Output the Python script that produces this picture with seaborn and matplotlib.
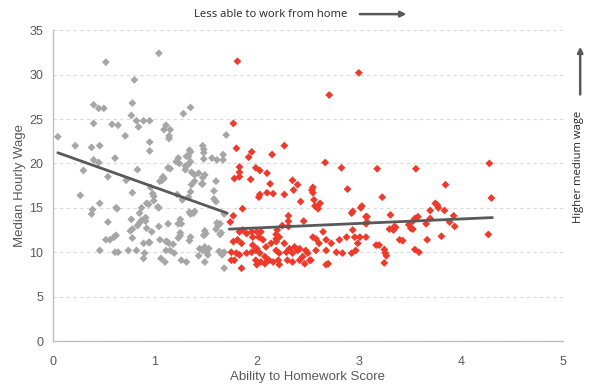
import numpy as np
import pandas as pd
import matplotlib
matplotlib.use("Agg")
import matplotlib.pyplot as plt
import seaborn as sns

# ---- data ----
gray_x = [0.05,0.52,1.04,0.80,0.40,0.45,0.50,0.78,0.77,0.82,0.84,0.89,0.95,1.35,1.28,0.40,0.58,0.64,0.71,
          1.11,1.09,1.15,1.14,1.14,0.95,0.95,0.22,0.38,0.46,0.40,0.45,0.61,0.30,0.54,0.83,0.72,0.27,0.46,
          0.39,0.38,0.62,0.63,0.54,0.78,0.77,0.78,0.76,0.83,0.85,0.87,0.85,0.87,0.92,0.94,0.91,0.91,0.92,
          0.97,0.96,0.98,0.99,0.99,1.03,1.04,1.05,1.07,1.09,1.15,1.21,1.24,1.23,1.30,1.34,1.35,1.33,1.35,
          1.39,1.39,1.36,1.35,1.47,1.48,1.48,1.48,1.56,1.61,1.67,1.67,1.70,1.60,1.47,1.47,1.58,1.58,1.33,
          1.27,1.22,1.34,1.35,1.38,1.39,1.25,1.25,1.18,1.12,1.04,0.94,1.49,1.50,1.62,1.64,1.60,1.63,1.66,
          0.46,0.52,0.56,0.60,0.62,0.61,0.64,0.74,0.78,0.82,0.89,0.90,0.89,0.95,1.05,1.06,1.10,1.11,1.15,
          1.11,1.19,1.25,1.31,1.35,1.44,1.47,1.49,1.51,1.52,1.53,1.49,1.64,1.66,1.68,1.68,1.31,1.33,1.30,
          1.13,1.08,1.36,1.43,1.49,1.46,1.60,1.13,1.23,1.26,1.61,1.65,1.68,1.23,1.34,1.48,1.14,1.26,1.43]
gray_y = [23.0,31.4,32.4,29.4,26.6,26.2,26.2,26.8,25.4,24.8,24.1,24.8,24.8,26.3,25.6,24.5,24.4,24.3,23.1,
          24.3,23.8,23.8,23.1,22.8,22.4,21.4,22.0,21.8,22.0,20.4,20.1,20.6,19.2,18.5,19.3,18.1,16.4,15.5,
          14.8,14.3,15.0,14.9,13.4,16.7,13.7,12.6,12.4,13.0,13.3,13.6,14.4,15.0,15.5,15.4,13.9,13.5,12.7,
          12.3,17.3,16.6,16.3,15.8,15.1,15.0,18.0,18.1,18.3,19.4,20.2,20.0,20.6,19.3,21.5,21.3,20.8,20.2,
          18.7,18.0,17.6,16.8,22.0,21.6,21.2,20.5,20.6,20.4,20.4,21.0,23.2,18.0,18.4,17.7,16.9,16.0,16.2,
          15.9,16.5,14.5,14.3,14.4,14.6,13.7,12.2,10.9,11.2,12.9,11.1,12.4,12.1,13.0,13.2,12.6,10.1,9.7,
          10.2,11.4,11.4,11.7,11.9,10.0,10.0,10.2,11.6,10.2,11.0,9.9,9.3,11.1,11.4,9.3,8.9,11.2,10.2,
          10.2,9.9,11.9,8.9,11.7,10.4,10.2,8.9,10.0,9.7,10.4,10.6,12.0,9.9,10.0,8.2,20.8,19.9,19.7,
          19.5,18.5,19.0,18.9,18.7,17.7,15.7,13.2,13.2,13.2,13.3,12.2,14.3,11.6,11.3,11.9,11.0,9.1,9.6]

red_x = [1.81,3.00,2.71,1.77,1.80,1.95,1.92,1.83,1.83,1.83,1.78,1.99,2.03,1.94,2.10,2.15,2.27,2.13,2.03,
         2.10,2.35,2.40,2.36,2.27,2.43,2.54,2.55,2.55,2.56,2.57,2.60,2.59,2.62,2.67,2.83,2.89,3.03,2.94,
         2.93,3.08,3.08,3.18,1.86,1.77,1.74,2.31,2.31,2.31,2.46,2.25,2.20,2.19,2.19,2.02,2.16,
         1.83,1.86,1.90,1.95,2.00,2.04,1.96,2.02,1.77,1.81,1.85,1.96,2.00,2.06,2.09,2.14,2.19,2.22,2.27,
         2.32,2.37,2.42,2.48,2.55,2.58,2.61,2.65,2.68,2.73,2.81,2.88,2.94,2.96,2.99,3.07,3.17,1.75,1.80,
         1.83,1.90,1.95,1.99,2.03,2.08,2.12,2.19,2.22,2.29,2.35,2.40,2.45,2.50,2.53,2.58,2.68,2.70,2.78,
         2.84,2.93,2.97,1.75,1.78,1.85,1.99,2.00,2.04,2.08,2.11,2.16,2.21,2.22,2.30,2.35,2.42,2.47,2.52,
         2.68,3.56,4.28,3.85,3.23,4.30,3.02,3.75,3.77,3.78,3.70,3.84,3.93,3.07,3.07,3.31,3.55,3.58,3.53,
         3.70,3.66,3.89,3.94,3.30,3.35,3.36,3.34,3.49,3.51,3.53,3.81,4.27,3.40,3.43,3.67,3.20,3.25,3.26,
         3.27,3.25,3.55,3.59,3.01]
red_y = [31.5,30.2,27.7,24.5,21.7,21.3,20.7,19.6,19.0,18.5,18.3,19.5,19.2,18.2,18.9,21.0,22.0,17.7,16.5,
         16.7,18.1,17.6,17.0,16.5,15.7,17.0,17.3,16.7,15.9,15.2,14.9,15.1,15.5,20.1,19.5,17.1,15.2,14.6,
         14.4,14.0,13.4,19.4,14.9,14.1,13.4,14.1,13.5,12.9,13.5,13.0,12.5,12.0,11.5,16.2,16.6,
         12.3,12.5,12.1,12.3,12.3,12.3,11.7,11.7,11.2,11.4,11.0,10.8,10.4,11.4,10.6,11.0,11.2,11.7,11.0,
         10.4,10.6,10.4,10.2,11.7,11.5,11.0,12.3,11.4,11.0,11.4,11.7,12.5,11.7,11.0,11.7,10.8,10.0,9.9,
         9.7,9.9,10.0,10.2,9.9,9.5,9.1,10.2,9.9,10.0,9.9,10.2,9.5,9.9,9.1,10.2,10.2,8.7,10.0,
         9.9,9.9,10.2,9.1,9.1,8.2,9.1,8.6,8.9,8.7,9.1,8.9,9.1,8.6,9.1,8.9,9.1,8.7,9.1,
         8.6,19.4,20.0,17.6,16.2,16.1,15.0,15.5,15.3,15.0,14.7,14.7,14.1,14.0,13.2,14.2,13.8,14.0,13.5,
         13.8,13.2,13.4,12.9,12.6,12.9,12.8,12.5,13.1,12.7,12.6,11.8,12.0,11.4,11.3,11.4,10.8,10.3,9.9,
         9.6,8.8,10.3,10.0,11.7]

# trend line end points
trend_gray_x = [0.05, 1.71]
trend_gray_y = [21.2, 14.4]
trend_red_x = [1.73, 4.31]
trend_red_y = [12.6, 13.9]

x_ticks = [0, 1, 2, 3, 4, 5]
y_ticks = [0, 5, 10, 15, 20, 25, 30, 35]

# ---- build frames ----
df = pd.DataFrame({
    "score": gray_x + red_x,
    "wage": gray_y + red_y,
    "group": ["able"] * len(gray_x) + ["less"] * len(red_x),
})
trend = pd.DataFrame({
    "score": trend_gray_x + trend_red_x,
    "wage": trend_gray_y + trend_red_y,
    "seg": ["g", "g", "r", "r"],
})

sns.set_style("white")
plt.rcParams["font.family"] = ["Liberation Sans", "DejaVu Sans"]

fig = plt.figure(figsize=(6.0, 3.92), dpi=100)
ax = fig.add_axes([0.088, 0.130, 0.850, 0.793])

sns.scatterplot(data=df, x="score", y="wage", hue="group",
                palette={"able": "#A6A6A6", "less": "#EE3A2B"},
                marker="D", s=16, linewidth=0, legend=False, ax=ax, zorder=3)
sns.lineplot(data=trend, x="score", y="wage", units="seg", estimator=None,
             color="#595959", linewidth=2, ax=ax, zorder=4)

ax.set_xlim(0, 5)
ax.set_ylim(0, 35)
ax.set_xticks(x_ticks)
ax.set_yticks(y_ticks)
ax.tick_params(axis="both", length=0, labelsize=9, colors="#595959")
ax.tick_params(axis="x", pad=11)
ax.tick_params(axis="y", pad=7)
ax.yaxis.grid(True, linestyle=(0, (3, 3)), color="#D9D9D9", linewidth=0.8)
ax.xaxis.grid(False)
ax.set_axisbelow(True)
for s in ["top", "right"]:
    ax.spines[s].set_visible(False)
for s in ["left", "bottom"]:
    ax.spines[s].set_color("#BFBFBF")
    ax.spines[s].set_linewidth(1)

ax.set_xlabel("Ability to Homework Score", fontsize=9.5, color="#595959", labelpad=2)
ax.set_ylabel("Median Hourly Wage", fontsize=9.5, color="#595959", labelpad=2)

# annotations
fig.text(0.451, 0.964, "Less able to work from home", fontsize=8.1, color="#262626",
         ha="center", va="center", family=["Open Sans", "DejaVu Sans"])
ax.annotate("", xy=(0.682, 0.964), xytext=(0.595, 0.964), xycoords="figure fraction",
            textcoords="figure fraction",
            arrowprops=dict(arrowstyle="-|>", color="#595959", lw=1.8, mutation_scale=8))
fig.text(0.964, 0.575, "Higher medium wage", fontsize=8.1, color="#262626", rotation=90,
         ha="center", va="center", family=["Open Sans", "DejaVu Sans"])
ax.annotate("", xy=(0.967, 0.888), xytext=(0.967, 0.752), xycoords="figure fraction",
            textcoords="figure fraction",
            arrowprops=dict(arrowstyle="-|>", color="#595959", lw=1.8, mutation_scale=8))

fig.savefig("out.png", dpi=100)
